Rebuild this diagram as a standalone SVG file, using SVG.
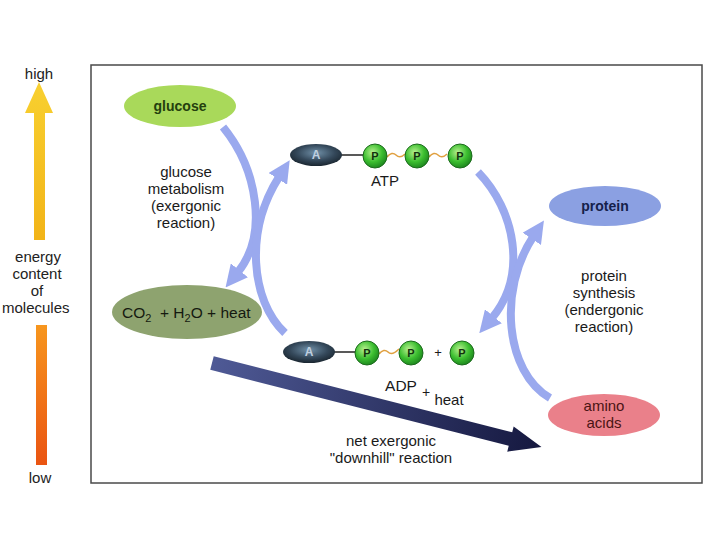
<svg xmlns="http://www.w3.org/2000/svg" width="720" height="540" viewBox="0 0 720 540">
<style>
text{font-family:"Liberation Sans",Arial,sans-serif;fill:#1a1a1a}
.lbl{font-size:15px;text-anchor:middle}
.nd{font-size:14px;font-weight:bold;text-anchor:middle}
.ax{font-size:15px;text-anchor:middle;fill:#222}
.pt{font-size:11px;font-weight:bold;text-anchor:middle;fill:#12300e}
.at{font-size:12px;font-weight:bold;text-anchor:middle;fill:#c0d0e0}
.arc{fill:none;stroke:#9aa9ee;stroke-width:8;stroke-linecap:butt}
.wave{fill:none;stroke:#e0a040;stroke-width:1.5}
.bond{stroke:#222;stroke-width:1.5}
.pc{fill:url(#pg);stroke:#1d6a1d;stroke-width:1}
</style>
<defs>
<radialGradient id="pg" cx="0.4" cy="0.35" r="0.65"><stop offset="0" stop-color="#b8f090"/><stop offset="0.6" stop-color="#3cbf30"/><stop offset="1" stop-color="#1f8a1f"/></radialGradient>
<radialGradient id="ag" cx="0.5" cy="0.4" r="0.6"><stop offset="0" stop-color="#7090a8"/><stop offset="0.6" stop-color="#34485a"/><stop offset="1" stop-color="#1a2630"/></radialGradient>
<linearGradient id="yg" x1="0" y1="0" x2="0" y2="1"><stop offset="0" stop-color="#f8d030"/><stop offset="1" stop-color="#f2b418"/></linearGradient>
<linearGradient id="og" x1="0" y1="0" x2="0" y2="1"><stop offset="0" stop-color="#f7961e"/><stop offset="1" stop-color="#ea5412"/></linearGradient>
<linearGradient id="ng" x1="0" y1="0" x2="1" y2="0"><stop offset="0" stop-color="#4f5a96"/><stop offset="1" stop-color="#15183f"/></linearGradient>
<marker id="bh" markerUnits="userSpaceOnUse" markerWidth="22" markerHeight="22" viewBox="0 0 20 20" refX="2" refY="10" orient="auto"><path d="M0,0 L20,10 L0,20 z" fill="#9aa9ee"/></marker>
</defs>
<rect width="720" height="540" fill="#fff"/>
<g id="axis">
<text class="ax" x="39" y="79">high</text>
<polygon points="39,82 53,113 45,113 45,240 34,240 34,113 25,113" fill="url(#yg)"/>
<text class="ax" x="38" y="262">energy</text>
<text class="ax" x="37" y="279">content</text>
<text class="ax" x="37" y="296">of</text>
<text x="2" y="313" style="font-size:15px;fill:#222">molecules</text>
<rect x="36" y="325" width="11" height="140" fill="url(#og)"/>
<text class="ax" x="40" y="483">low</text>
</g>
<rect id="frame" x="91" y="65" width="611" height="418" fill="#fff" stroke="#4a4a4a" stroke-width="1.5"/>
<g id="connectors">
<path class="arc" d="M223,127 C258,170 268,235 238,272" marker-end="url(#bh)"/>
<path class="arc" d="M285,333 C250,300 245,230 279,177" marker-end="url(#bh)"/>
<path class="arc" d="M478,172 C515,210 528,275 492,318" marker-end="url(#bh)"/>
<path class="arc" d="M550,398 C505,372 498,290 533,237" marker-end="url(#bh)"/>
<g id="net-arrow" transform="translate(212,363) rotate(14.3)">
<polygon points="0,-7 308,-7 308,-13 340,0 308,13 308,7 0,7" fill="url(#ng)"/>
</g>
</g>
<g id="glucose">
<ellipse cx="180" cy="106" rx="56" ry="21" fill="#a9d95a"/>
<text class="nd" x="180" y="111" style="fill:#24400e">glucose</text>
</g>
<g id="glucose-metabolism">
<text class="lbl" x="186" y="177">glucose</text>
<text class="lbl" x="186" y="194">metabolism</text>
<text class="lbl" x="186" y="211">(exergonic</text>
<text class="lbl" x="186" y="228">reaction)</text>
</g>
<g id="co2">
<ellipse cx="187" cy="312" rx="75" ry="27" fill="#8ea36f"/>
<text x="122" y="318" style="font-size:15.5px;fill:#151a10">CO<tspan font-size="11" dy="4">2</tspan><tspan dy="-4" xml:space="preserve">  + H</tspan><tspan font-size="11" dy="4">2</tspan><tspan dy="-4">O + heat</tspan></text>
</g>
<g id="atp">
<line class="bond" x1="340" y1="155" x2="364" y2="155"/>
<path class="wave" d="M387,157 q5,-6 9,-2 q4,4 9,-1"/>
<path class="wave" d="M429,157 q5,-6 9,-2 q4,4 9,-1"/>
<ellipse cx="316" cy="155" rx="26" ry="11" fill="url(#ag)"/>
<text class="at" x="316" y="159">A</text>
<circle class="pc" cx="375" cy="156" r="12"/><text class="pt" x="375" y="160">P</text>
<circle class="pc" cx="417" cy="156" r="12"/><text class="pt" x="417" y="160">P</text>
<circle class="pc" cx="460" cy="156" r="12"/><text class="pt" x="460" y="160">P</text>
<text x="385" y="186" style="font-size:15px;text-anchor:middle">ATP</text>
</g>
<g id="adp">
<line class="bond" x1="333" y1="352" x2="356" y2="352"/>
<path class="wave" d="M379,354 q5,-6 9,-2 q4,4 11,-3"/>
<ellipse cx="309" cy="352" rx="26" ry="11" fill="url(#ag)"/>
<text class="at" x="309" y="356">A</text>
<circle class="pc" cx="367" cy="353" r="12"/><text class="pt" x="367" y="357">P</text>
<circle class="pc" cx="411" cy="353" r="12"/><text class="pt" x="411" y="357">P</text>
<text x="438" y="357" style="font-size:13px;text-anchor:middle">+</text>
<circle class="pc" cx="462" cy="353" r="12"/><text class="pt" x="462" y="357">P</text>
<text x="401" y="391" style="font-size:15.5px;text-anchor:middle">ADP</text>
<text x="426" y="397" style="font-size:14px;text-anchor:middle">+</text>
<text x="449" y="405" style="font-size:15px;text-anchor:middle">heat</text>
</g>
<g id="net-label">
<text class="lbl" x="391" y="446">net exergonic</text>
<text class="lbl" x="391" y="463">"downhill" reaction</text>
</g>
<g id="protein">
<ellipse cx="605" cy="206" rx="56" ry="20" fill="#8ba0e2"/>
<text class="nd" x="605" y="211" style="fill:#15204a">protein</text>
</g>
<g id="protein-synthesis">
<text class="lbl" x="604" y="281">protein</text>
<text class="lbl" x="604" y="298">synthesis</text>
<text class="lbl" x="604" y="315">(endergonic</text>
<text class="lbl" x="604" y="332">reaction)</text>
</g>
<g id="amino-acids">
<ellipse cx="604" cy="415" rx="56" ry="21" fill="#ea808a"/>
<text class="lbl" x="604" y="411" style="fill:#4a1414">amino</text>
<text class="lbl" x="604" y="428" style="fill:#4a1414">acids</text>
</g>
</svg>
